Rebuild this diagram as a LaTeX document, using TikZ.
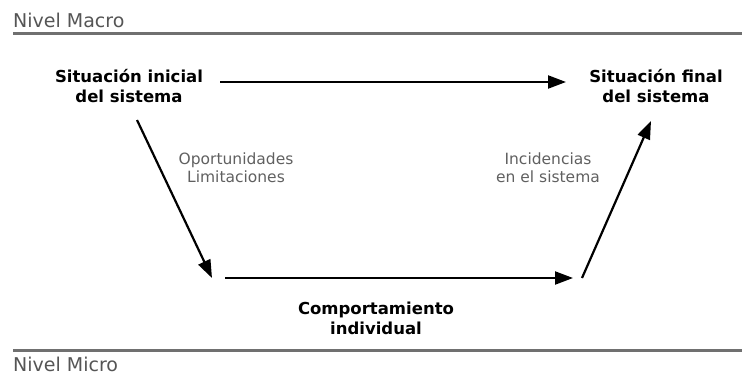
\documentclass[tikz,border=0pt]{standalone}
\usepackage{fontspec}
\setmainfont{DejaVu Sans}
\usetikzlibrary{arrows.meta}
\definecolor{lvl}{HTML}{555555}
\definecolor{lbl}{HTML}{606060}
\definecolor{rulec}{HTML}{707070}
\begin{document}
\begin{tikzpicture}[x=1pt,y=-1pt,
  level/.style={anchor=base west, inner sep=0pt, text=lvl, font=\fontsize{19}{22}\selectfont},
  main/.style={align=center, anchor=north, inner sep=0pt, font=\bfseries\fontsize{16.5}{20}\selectfont},
  note/.style={align=center, anchor=north, inner sep=0pt, text=lbl, font=\fontsize{15.5}{17.5}\selectfont},
  flow/.style={line width=2.2pt, -{Triangle[length=18pt,width=13pt]}},
  rulestyle/.style={line width=3pt, draw=rulec}]
\useasboundingbox (0,0) rectangle (742,378);
% levels
\node[level] (macro) at (13,27) {Nivel Macro};
\node[level] (micro) at (13,371) {Nivel Micro};
\coordinate (t1) at (13,33);
\coordinate (t2) at (742,33);
\coordinate (b1) at (13,350);
\coordinate (b2) at (742,350);
\draw[rulestyle] (t1) -- (t2);
\draw[rulestyle] (b1) -- (b2);
% main nodes
\node[main] (ini) at (129,69) {Situación inicial\\del sistema};
\node[main] (fin) at (656,69) {Situación final\\del sistema};
\node[main] (comp) at (376,302) {Comportamiento\\individual};
% notes
\node[note] (opo) at (236,153) {Oportunidades\\Limitaciones};
\node[note] (inc) at (548,153) {Incidencias\\en el sistema};
% arrow ends
\coordinate (a1) at (220,82);
\coordinate (a2) at (566,82);
\coordinate (l1) at (137,120);
\coordinate (l2) at (212,278);
\coordinate (c1) at (225,278);
\coordinate (c2) at (573,278);
\coordinate (r1) at (582,278);
\coordinate (r2) at (651,121);
\draw[flow] (a1) -- (a2);
\draw[flow] (l1) -- (l2);
\draw[flow] (c1) -- (c2);
\draw[flow] (r1) -- (r2);
\end{tikzpicture}
\end{document}
